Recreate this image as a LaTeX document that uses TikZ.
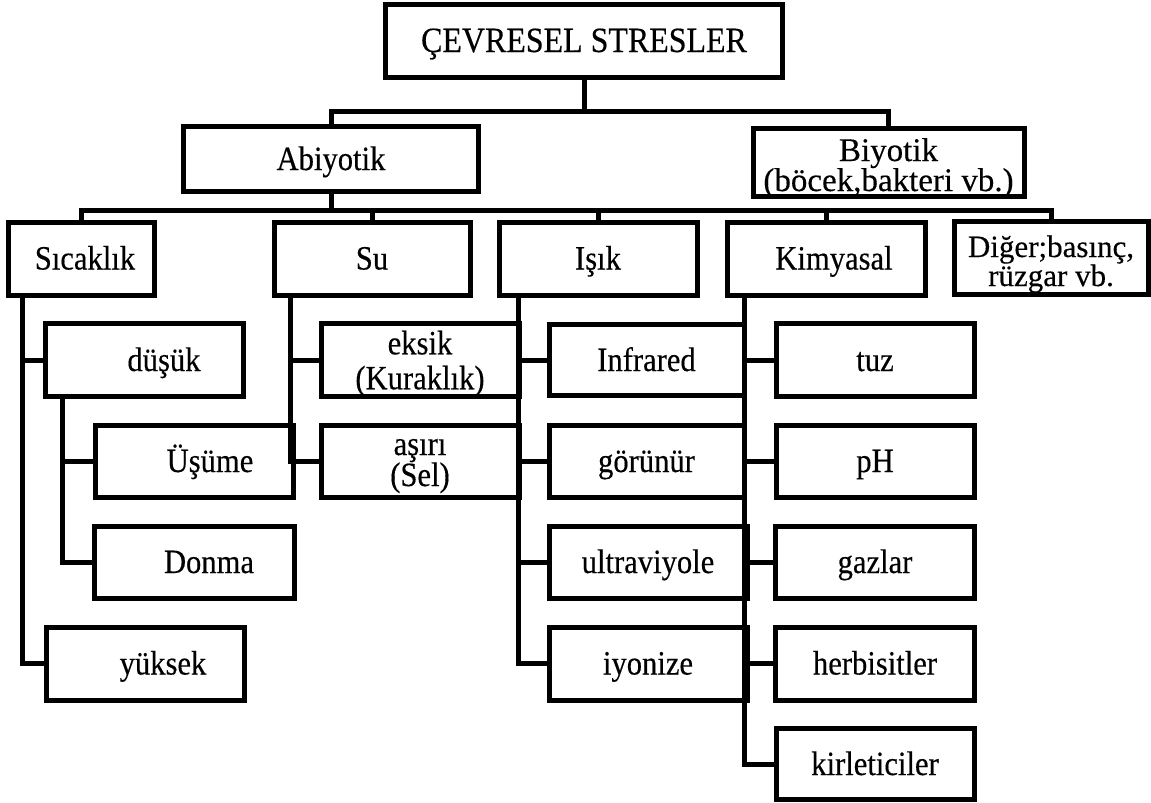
\documentclass[tikz,border=0pt]{standalone}
\usepackage{fontspec}
\setmainfont{Liberation Serif}[FakeStretch=0.9, FakeBold=0.35]
\newfontfamily\widefont{Liberation Serif}[FakeBold=0.35]
\tikzset{
  box/.style={draw, line width=5pt, inner sep=0pt, font=\fontsize{34pt}{36pt}\selectfont},
  one/.style={text height=24pt, text depth=2pt},
  two/.style 2 args={align=center, font=\fontsize{#1pt}{#2pt}\selectfont},
  twowide/.style 2 args={align=center, font=\widefont\fontsize{#1pt}{#2pt}\selectfont},
  sz/.style 2 args={minimum width=#1pt, minimum height=#2pt},
  ln/.style={line width=5pt},
}
\begin{document}
\begin{tikzpicture}[x=1pt,y=-1pt]
\lineskiplimit=-20pt
\useasboundingbox (0,0) rectangle (1151,803);
% level 0 and 1
\node[box, one, sz={397}{73}, font=\fontsize{35.5pt}{40pt}\selectfont] (top) at (584,41) {ÇEVRESEL STRESLER};
\node[box, one, sz={295}{65}] (abi) at (331,159) {Abiyotik};
\node[box, sz={271}{68}, twowide={33}{30}] (bio) at (888.5,162) {\rule{0pt}{28pt}Biyotik\\\smash{(böcek,bakteri vb.)}};
% level 2
\node[box, one, sz={146}{73}] (sic) at (81,258.5) {\hspace*{8pt}Sıcaklık};
\node[box, one, sz={196}{73}] (su) at (372,258.5) {Su};
\node[box, one, sz={198}{73}] (isik) at (598,258.5) {Işık};
\node[box, one, sz={198}{73}] (kim) at (826,258.5) {\hspace*{16pt}Kimyasal};
\node[box, sz={194}{73}, twowide={31}{29}] (dig) at (1051,258) {\rule{0pt}{27pt}Diğer;basınç,\\\smash{rüzgar vb.}};
% Sicaklik column
\node[box, one, sz={198}{73}] (dus) at (144,360) {\hspace*{40pt}düşük};
\node[box, one, sz={198}{72}] (usu) at (194,461) {\hspace*{32pt}Üşüme};
\node[box, one, sz={200}{72}] (don) at (194,562) {\hspace*{30pt}Donma};
\node[box, one, sz={198}{73}] (yuk) at (145,663.5) {\hspace*{36pt}yüksek};
% Su column
\node[box, sz={198}{73}, two={34}{35}] (eks) at (420,360) {eksik\\\smash{(Kuraklık)}};
\node[box, sz={198}{72}, two={34}{31}] (asi) at (420,461) {\rule{0pt}{19pt}aşırı\\\smash{(Sel)}};
% Isik column
\node[box, one, sz={195}{71}] (inf) at (646.5,360) {Infrared};
\node[box, one, sz={195}{72}] (gor) at (646.5,461) {görünür};
\node[box, one, sz={198}{72}] (ult) at (648,562) {ultraviyole};
\node[box, one, sz={198}{73}] (iyo) at (648,663.5) {iyonize};
% Kimyasal column
\node[box, one, sz={198}{73}] (tuz) at (875,360) {tuz};
\node[box, one, sz={198}{72}] (ph) at (875,461) {pH};
\node[box, one, sz={199}{72}] (gaz) at (875,562) {gazlar};
\node[box, one, sz={199}{73}] (her) at (875,663.5) {herbisitler};
\node[box, one, sz={198}{71}] (kir) at (875,764) {kirleticiler};
% connectors
\draw[ln] (top.south) -- ++(0,31) -| (abi.north);
\draw[ln] (top.south) -- ++(0,31) -| (bio.north);
\draw[ln] (abi.south) -- ++(0,16) -| (sic.north);
\draw[ln] (abi.south) -- ++(0,16) -| (su.north);
\draw[ln] (abi.south) -- ++(0,16) -| (isik.north);
\draw[ln] (abi.south) -- ++(0,16) -| (kim.north);
\draw[ln] (abi.south) -- ++(0,16) -| (dig.north);
\draw[ln] ([xshift=17pt]sic.south west) |- (dus.west);
\draw[ln] ([xshift=17pt]sic.south west) |- (yuk.west);
\draw[ln] ([xshift=20pt]dus.south west) |- (usu.west);
\draw[ln] ([xshift=20pt]dus.south west) |- (don.west);
\draw[ln] ([xshift=19pt]su.south west) |- (eks.west);
\draw[ln] ([xshift=19pt]su.south west) |- (asi.west);
\draw[ln] ([xshift=22pt]isik.south west) |- (inf.west);
\draw[ln] ([xshift=22pt]isik.south west) |- (gor.west);
\draw[ln] ([xshift=22pt]isik.south west) |- (ult.west);
\draw[ln] ([xshift=22pt]isik.south west) |- (iyo.west);
\draw[ln] ([xshift=20pt]kim.south west) |- (tuz.west);
\draw[ln] ([xshift=20pt]kim.south west) |- (ph.west);
\draw[ln] ([xshift=20pt]kim.south west) |- (gaz.west);
\draw[ln] ([xshift=20pt]kim.south west) |- (her.west);
\draw[ln] ([xshift=20pt]kim.south west) |- (kir.west);
\end{tikzpicture}
\end{document}
